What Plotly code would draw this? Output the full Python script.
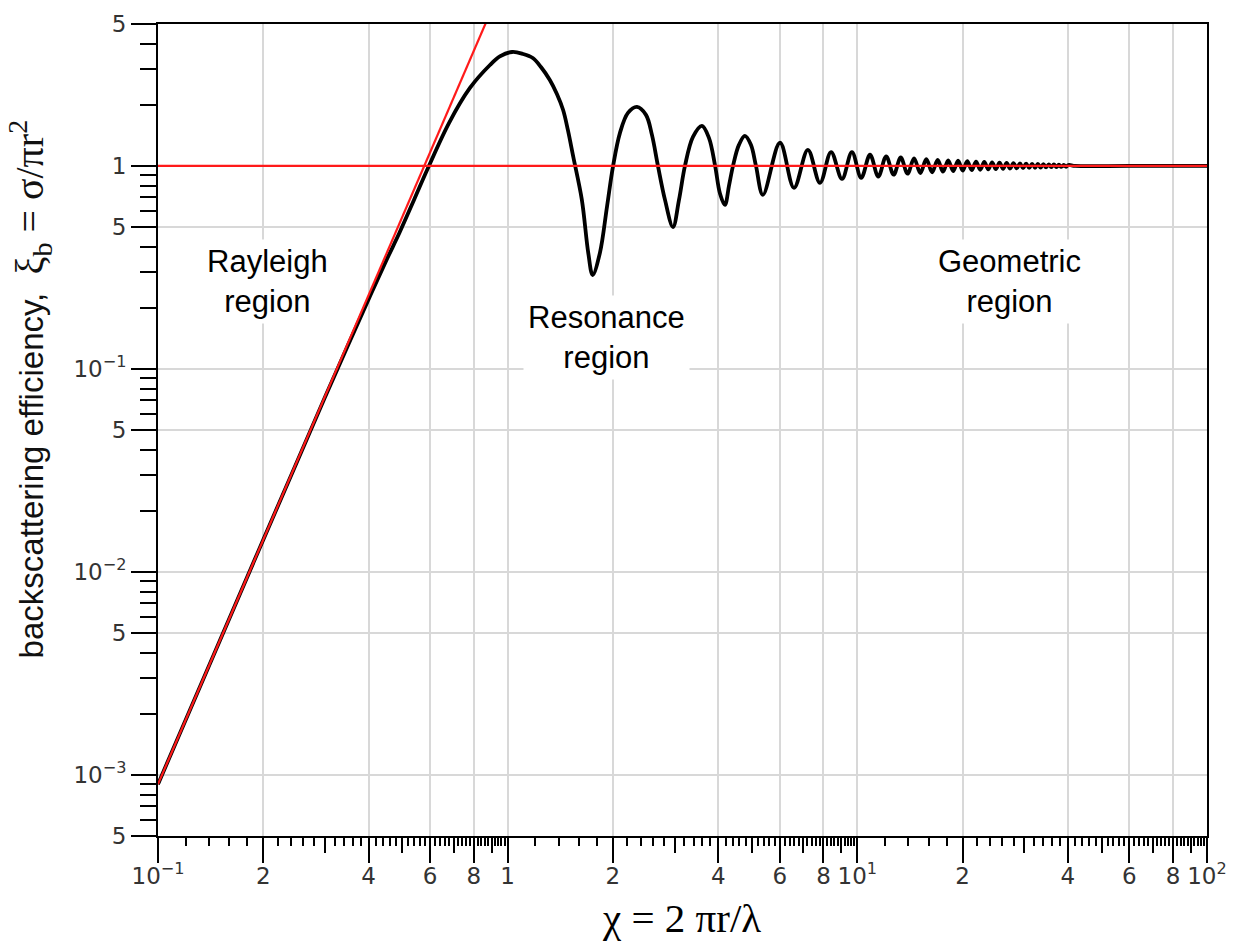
import math
import plotly.graph_objects as go

# Backscattering efficiency of a conducting sphere versus size parameter chi = 2*pi*r/lambda
chi = [0.1, 0.15, 0.2, 0.25, 0.3, 0.35, 0.4, 0.45, 0.49, 0.54, 0.59, 0.68, 0.78, 0.89,
       0.95, 1.03, 1.106, 1.18, 1.245, 1.32, 1.383, 1.44, 1.487, 1.54, 1.63, 1.70, 1.75,
       1.836, 1.923, 2.0, 2.095, 2.208, 2.343, 2.486, 2.586, 2.69, 2.818, 2.97, 3.09,
       3.214, 3.388, 3.594, 3.764, 3.92, 4.047, 4.18, 4.294, 4.41, 4.585, 4.77, 4.962,
       5.13, 5.37, 6.01, 6.59, 7.22, 7.82, 8.41, 9.04, 9.65, 10.26, 10.87, 11.48,
       12.09, 12.7, 13.31, 13.92, 14.53, 15.14, 15.75, 16.36, 16.97, 17.58, 18.19,
       18.8, 19.41, 20.02, 20.63, 21.24, 21.85, 22.46, 23.07, 23.68, 24.29, 24.9,
       25.51, 26.12, 26.73, 27.34, 27.95, 28.56, 29.17, 29.78, 30.39, 31.0, 31.61,
       32.22, 32.83, 33.44, 34.05, 34.66, 35.27, 35.88, 36.49, 37.1, 37.71, 38.32,
       38.93, 39.54, 40.15, 42.0, 60.0, 100.0]
xi_b = [0.0009, 0.00455, 0.0144, 0.035, 0.0722, 0.1317, 0.220, 0.343, 0.467, 0.681,
        0.965, 1.63, 2.42, 3.14, 3.46, 3.64, 3.56, 3.40, 3.07, 2.65, 2.26, 1.89, 1.50,
        1.11, 0.68, 0.373, 0.29, 0.373, 0.628, 0.989, 1.454, 1.824, 1.953, 1.784,
        1.421, 1.0, 0.68, 0.50, 0.68, 1.0, 1.39, 1.575, 1.374, 1.0, 0.731, 0.642,
        0.797, 1.0, 1.269, 1.405, 1.27, 1.0, 0.72, 1.30, 0.78, 1.20, 0.825, 1.17,
        0.863, 1.17, 0.873, 1.135, 0.885, 1.115, 0.905, 1.10, 0.915, 1.088, 0.922,
        1.078, 0.93, 1.07, 0.936, 1.065, 0.942, 1.06, 0.948, 1.054, 0.953, 1.049,
        0.957, 1.045, 0.961, 1.041, 0.964, 1.037, 0.967, 1.034, 0.970, 1.031, 0.973,
        1.028, 0.975, 1.026, 0.977, 1.024, 0.979, 1.022, 0.981, 1.02, 0.983, 1.018,
        0.985, 1.016, 0.986, 1.014, 0.988, 1.012, 0.99, 1.01, 1.0, 1.0, 1.0]

# Rayleigh asymptote and geometric-optics limit
rayleigh_chi = [0.1, 1.0]
rayleigh_xi = [0.0009, 9.0]
optics_chi = [0.1, 100.0]
optics_xi = [1.0, 1.0]

# Axis ticks
x_tick_vals = [0.1, 0.2, 0.4, 0.6, 0.8, 1, 2, 4, 6, 8, 10, 20, 40, 60, 80, 100]
x_tick_text = ["10<sup>−1</sup>", "2", "4", "6", "8", "1", "2", "4", "6", "8",
               "10<sup>1</sup>", "2", "4", "6", "8", "10<sup>2</sup>"]
y_tick_vals = [5e-4, 1e-3, 5e-3, 1e-2, 5e-2, 0.1, 0.5, 1, 5]
y_tick_text = ["5", "10<sup>−3</sup>", "5", "10<sup>−2</sup>", "5", "10<sup>−1</sup>",
               "5", "1", "5"]

# Region labels: (text, chi, xi_b) at the label centre
region_labels = [("Rayleigh<br>region", 0.205, 0.271),
                 ("Resonance<br>region", 1.92, 0.142),
                 ("Geometric<br>region", 27.3, 0.271)]

decades = (0.1, 1, 10)
x_minor = [round(b * m / 10, 6) for b in decades for m in range(12, 100, 2) if m % 10 != 0]
x_mid = [round(b * m, 6) for b in decades for m in (3, 5, 7, 9)]
y_minor = [d * m for d in (1e-4, 1e-3, 1e-2, 1e-1, 1) for m in (2, 3, 4, 6, 7, 8, 9)
           if 5e-4 < d * m < 5]

TICK_FONT = dict(family="DejaVu Sans", size=23, color="#333")
SANS = "Liberation Sans"
SERIF = "Liberation Serif"

fig = go.Figure()
fig.add_trace(go.Scatter(x=chi, y=xi_b, mode="lines",
                         line=dict(color="black", width=3.8, shape="spline", smoothing=1.0),
                         showlegend=False, hoverinfo="skip"))
fig.add_trace(go.Scatter(x=rayleigh_chi, y=rayleigh_xi, mode="lines",
                         line=dict(color="#ff1a1a", width=2.2), showlegend=False, hoverinfo="skip"))
fig.add_trace(go.Scatter(x=optics_chi, y=optics_xi, mode="lines",
                         line=dict(color="#ff1a1a", width=2.2), showlegend=False, hoverinfo="skip"))
# carrier trace for the overlay axis holding the mid-length ticks
fig.add_trace(go.Scatter(x=[1], y=[1], xaxis="x2", mode="markers", opacity=0,
                         showlegend=False, hoverinfo="skip"))

axis_common = dict(type="log", showline=True, linecolor="black", linewidth=2, mirror=True,
                   ticks="outside", ticklen=25, tickwidth=2, tickcolor="black",
                   showgrid=True, gridcolor="#d8d8d8", gridwidth=2, zeroline=False,
                   tickfont=TICK_FONT, tickmode="array")

fig.update_layout(
    width=1239, height=941, autosize=False,
    margin=dict(l=158, r=32, t=24, b=105),
    paper_bgcolor="white", plot_bgcolor="white",
    xaxis=dict(axis_common, range=[-1, 2], tickvals=x_tick_vals, ticktext=x_tick_text,
               ticklabelstandoff=-7,
               minor=dict(tickmode="array", tickvals=x_minor, ticks="outside", ticklen=8,
                          tickwidth=2, tickcolor="black", showgrid=False)),
    xaxis2=dict(type="log", range=[-1, 2], overlaying="x", anchor="y", side="bottom",
                tickmode="array", tickvals=x_mid, ticks="outside", ticklen=16, tickwidth=2,
                tickcolor="black", showticklabels=False, showgrid=False, showline=False,
                zeroline=False),
    yaxis=dict(axis_common, range=[-3.30103, 0.69897], tickvals=y_tick_vals,
               ticktext=y_tick_text,
               minor=dict(tickmode="array", tickvals=y_minor, ticks="outside", ticklen=16,
                          tickwidth=2, tickcolor="black", showgrid=False)),
)

# annotation positions on log axes are given in log10 units
region_font = dict(family=SANS, size=31, color="black")
for text, xv, yv in region_labels:
    fig.add_annotation(x=math.log10(xv), y=math.log10(yv), xref="x", yref="y", text=text,
                       showarrow=False, font=region_font, bgcolor="white", borderpad=4,
                       xanchor="center", yanchor="middle", align="center")

fig.add_annotation(
    xref="paper", yref="paper", x=-0.122, y=0.55, textangle=-90,
    text=("backscattering efficiency,  "
          f"<span style=\"font-family:'{SERIF}'; font-size:40px\">ξ<sub>b</sub> = σ/πr<sup>2</sup></span>"),
    showarrow=False, font=dict(family=SANS, size=33, color="#111"),
    xanchor="center", yanchor="middle")

fig.add_annotation(
    xref="paper", yref="paper", x=0.4995, y=-0.101,
    text="χ = 2 πr/λ", showarrow=False,
    font=dict(family=SERIF, size=41, color="black"),
    xanchor="center", yanchor="middle")

fig.write_html("out.html")
